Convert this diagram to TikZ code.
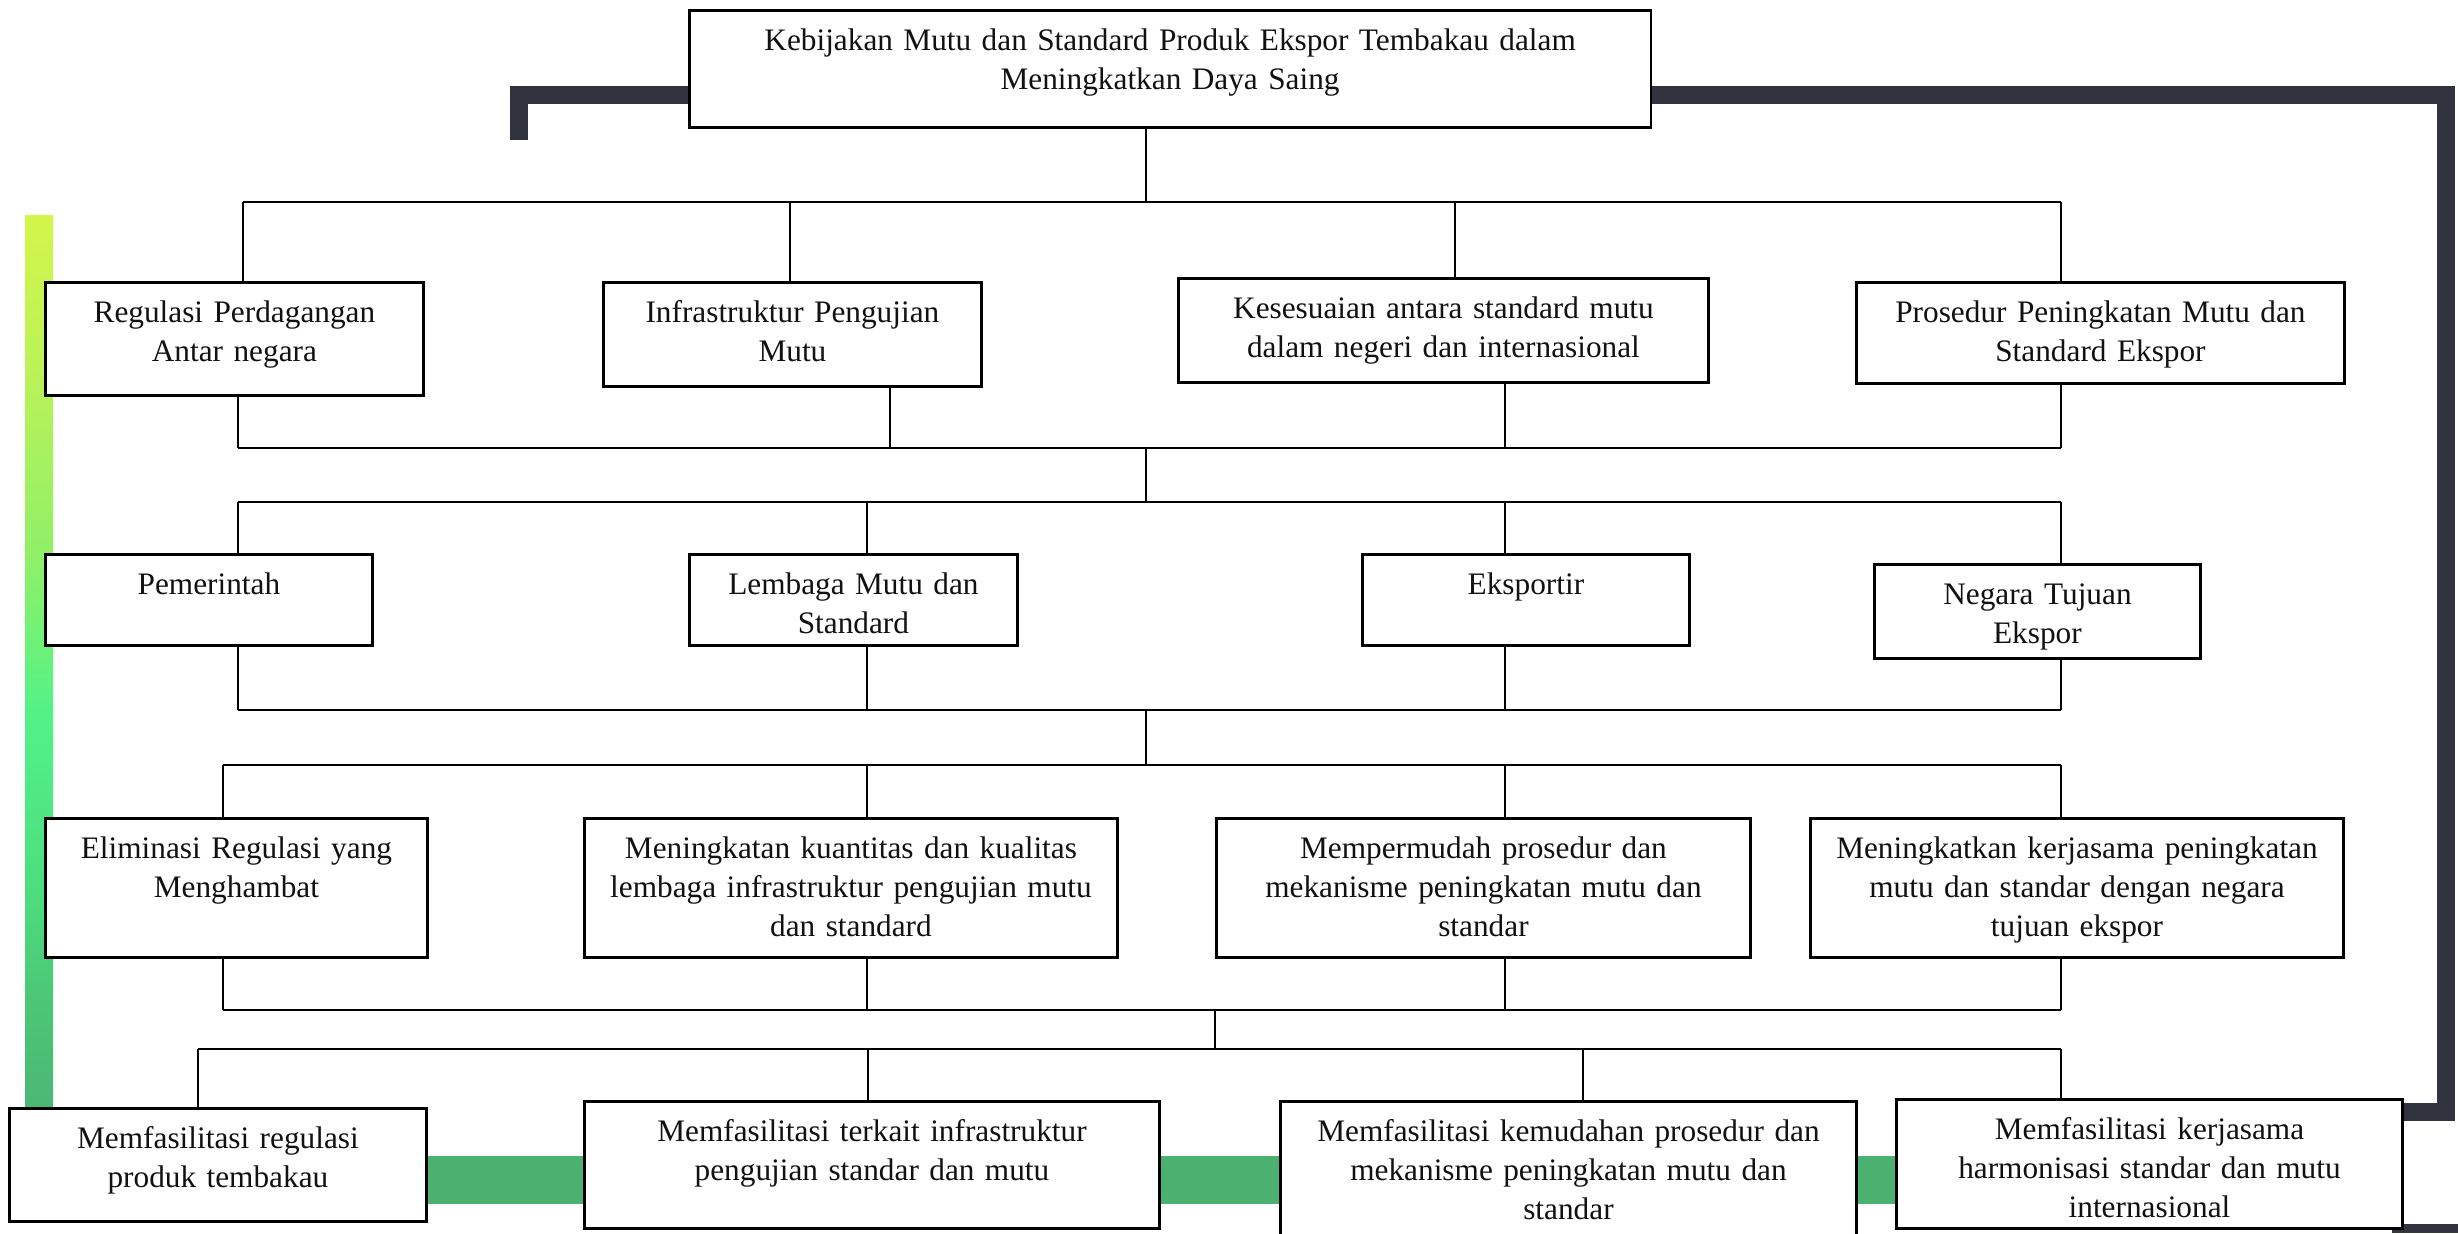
\documentclass[tikz,border=0pt]{standalone}
\usepackage{fontspec}
\setmainfont{Liberation Serif}
\usepackage{tikz}
\usetikzlibrary{calc}
\definecolor{FigFrame}{HTML}{31343F}
\definecolor{FigBand}{HTML}{4CB170}
\definecolor{FigBarBot}{HTML}{4CB873}
\definecolor{FigBarLow}{HTML}{4CC676}
\definecolor{FigBarDeep}{HTML}{4CDC7E}
\definecolor{FigMint}{HTML}{52F287}
\definecolor{FigBarMid}{HTML}{90F067}
\definecolor{FigBarHigh}{HTML}{B8F258}
\definecolor{FigLime}{HTML}{D4F54A}
\definecolor{FigText}{HTML}{111111}
\pgfdeclareverticalshading{sidebar}{100bp}{color(0bp)=(FigBarBot); color(25bp)=(FigBarBot);
  color(31bp)=(FigBarLow); color(36.6bp)=(FigBarDeep); color(47bp)=(FigMint);
  color(56bp)=(FigBarMid); color(65.6bp)=(FigBarHigh);
  color(75bp)=(FigLime); color(100bp)=(FigLime)}

\begin{document}
\begin{tikzpicture}[
x=0.01cm, y=-0.01cm,
font=\fontsize{8.9}{11.2}\selectfont,
orgbox/.style 2 args={
draw=black,
line width=0.75pt,
fill=white,
anchor=north west,
inner sep=0pt,
align=center,
text width=#1,
text height=11.3pt,
text depth={#2-11.3pt}
},
link/.style={line width=0.6pt},
frame/.style={draw=FigFrame, line width=0.18cm},
every node/.style={text=FigText}
]
\useasboundingbox (0,0) rectangle (2458,1233);

% side bar and bottom band
\shade[shading=sidebar] (25,215) rectangle (53,1108);
\fill[FigBand] (300,1156) rectangle (1950,1204);

% title
\node[orgbox={9.61cm}{1.17cm}] (title) at (688,9) {Kebijakan Mutu dan Standard Produk Ekspor Tembakau dalam\\Meningkatkan Daya Saing};

% dark frame
\coordinate (f1) at (519,140);
\coordinate (f2) at (0,95);
\coordinate (f3) at (2446,1112);
\draw[frame] (f1) |- (f2 -| title.west);
\draw[frame] (f2 -| title.east) -| (f3) -- (f3 -| 2401,0);
\fill[FigFrame] (2392,1224) rectangle (2458,1233);

% row 1
\node[orgbox={3.78cm}{1.13cm}] (r1a) at (44,281) {Regulasi Perdagangan\\Antar negara};
\node[orgbox={3.78cm}{1.04cm}] (r1b) at (602,281) {Infrastruktur Pengujian\\Mutu};
\node[orgbox={5.30cm}{1.04cm}] (r1c) at (1177,277) {Kesesuaian antara standard mutu\\dalam negeri dan internasional};
\node[orgbox={4.88cm}{1.01cm}] (r1d) at (1855,281) {Prosedur Peningkatan Mutu dan\\Standard Ekspor};

% row 2
\node[orgbox={3.27cm}{0.91cm}] (r2a) at (44,553) {Pemerintah};
\node[orgbox={3.28cm}{0.91cm}] (r2b) at (688,553) {Lembaga Mutu dan\\Standard};
\node[orgbox={3.27cm}{0.91cm}] (r2c) at (1361,553) {Eksportir};
\node[orgbox={3.26cm}{0.94cm}] (r2d) at (1873,563) {Negara Tujuan\\Ekspor};

% row 3
\node[orgbox={3.82cm}{1.39cm}] (r3a) at (44,817) {Eliminasi Regulasi yang\\Menghambat};
\node[orgbox={5.33cm}{1.39cm}] (r3b) at (583,817) {Meningkatan kuantitas dan kualitas\\lembaga infrastruktur pengujian mutu\\dan standard};
\node[orgbox={5.34cm}{1.39cm}] (r3c) at (1215,817) {Mempermudah prosedur dan\\mekanisme peningkatan mutu dan\\standar};
\node[orgbox={5.33cm}{1.39cm}] (r3d) at (1809,817) {Meningkatkan kerjasama peningkatan\\mutu dan standar dengan negara\\tujuan ekspor};

% row 4
\node[orgbox={4.17cm}{1.13cm}] (r4a) at (8,1107) {Memfasilitasi regulasi\\produk tembakau};
\node[orgbox={5.75cm}{1.27cm}] (r4b) at (583,1100) {Memfasilitasi terkait infrastruktur\\pengujian standar dan mutu};
\node[orgbox={5.76cm}{1.50cm}] (r4c) at (1279,1100) {Memfasilitasi kemudahan prosedur dan\\mekanisme peningkatan mutu dan\\standar};
\node[orgbox={5.06cm}{1.29cm}] (r4d) at (1895,1098) {Memfasilitasi kerjasama\\harmonisasi standar dan mutu\\internasional};

% connectors down to each row
\foreach \nn/\nx/\ny in {r1a/243/202, r1b/790/202, r1c/1455/202, r1d/2061/202,
  r2a/238/502, r2b/867/502, r2c/1505/502, r2d/2061/502,
  r3a/223/765, r3b/867/765, r3c/1505/765, r3d/2061/765,
  r4a/198/1049, r4b/868/1049, r4c/1583/1049, r4d/2061/1049}{
  \coordinate (\nn T) at (\nx,\ny);
  \draw[link] (\nn T) -- (\nn T |- \nn.north);
}
% connectors up from each row
\foreach \nn/\nx/\ny in {r1a/238/448, r1b/890/448, r1c/1505/448, r1d/2061/448,
  r2a/238/710, r2b/867/710, r2c/1505/710, r2d/2061/710,
  r3a/223/1010, r3b/867/1010, r3c/1505/1010, r3d/2061/1010}{
  \coordinate (\nn B) at (\nx,\ny);
  \draw[link] (\nn.south -| \nn B) -- (\nn B);
}

% buses
\draw[link] (r1aT) -- (r1dT);
\draw[link] (r1aB) -- (r1dB);
\draw[link] (r2aT) -- (r2dT);
\draw[link] (r2aB) -- (r2dB);
\draw[link] (r3aT) -- (r3dT);
\draw[link] (r3aB) -- (r3dB);
\draw[link] (r4aT) -- (r4dT);

% centre drops
\coordinate (m1) at (1146,202);
\coordinate (m2) at (1146,502);
\coordinate (m3) at (1146,765);
\coordinate (m4) at (1215,1049);
\draw[link] (title.south -| m1) -- (m1);
\draw[link] (m2 |- r1aB) -- (m2);
\draw[link] (m3 |- r2aB) -- (m3);
\draw[link] (m4 |- r3aB) -- (m4);

\end{tikzpicture}
\end{document}
